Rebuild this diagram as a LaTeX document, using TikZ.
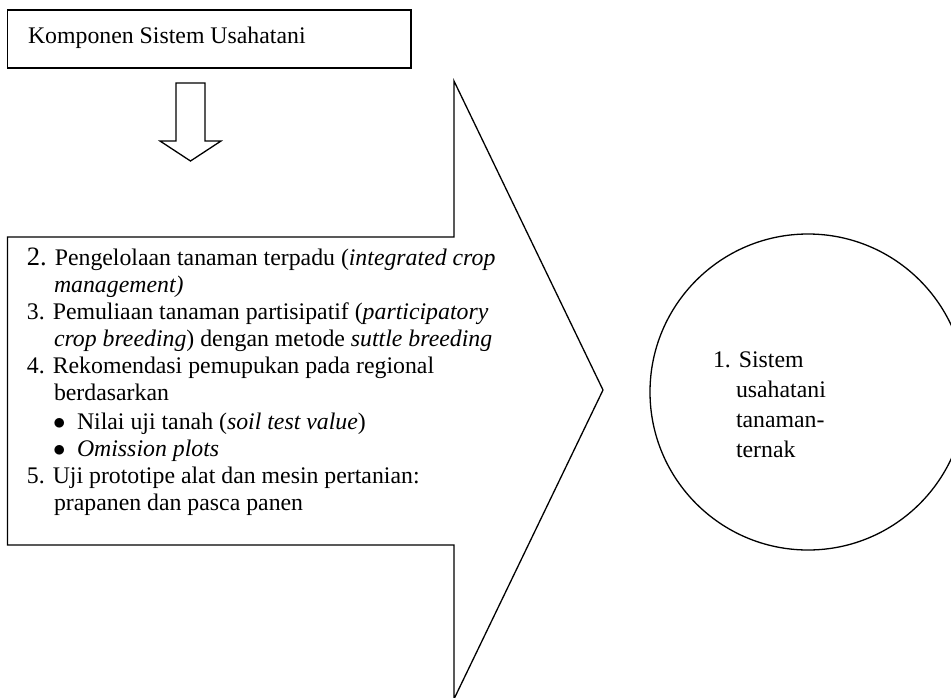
\documentclass[tikz,border=0pt]{standalone}
\usepackage{fontspec}
\setmainfont{Liberation Serif}
\begin{document}
\begin{tikzpicture}[x=1pt,y=-1pt,inner sep=0pt,outer sep=0pt,line width=1.3pt,
txt/.style={anchor=base west,font=\fontsize{23.8}{27}\selectfont},
box/.style={draw,rectangle,line width=1.6pt,minimum width=403.5pt,minimum height=58pt}]
\clip (0,0) rectangle (951,697);
\draw (209.25,39) node[box] (komp) {};
\draw (28,43) node[txt] (kompt) {Komponen Sistem Usahatani};
% panah ke bawah
\draw (176,83) -- (205,83) -- (205,141) -- (221,141) -- (190.5,161) -- (160,141) -- (176,141) -- cycle;
% panah besar
\draw (7.5,237) -- (454,237) -- (454,81) -- (603,390) -- (454,699) -- (454,545) -- (7.5,545) -- cycle;
\draw (27,265) node[txt] (l1) {{\fontsize{26.5}{27}\selectfont 2.} Pengelolaan tanaman terpadu (\textit{integrated crop}};
\draw (54,292) node[txt] (l2) {\textit{management)}};
\draw (27,319) node[txt] (l3) {3. Pemuliaan tanaman partisipatif (\textit{participatory}};
\draw (54,346) node[txt] (l4) {\textit{crop breeding}) dengan metode \textit{suttle breeding}};
\draw (27,373) node[txt] (l5) {4. Rekomendasi pemupukan pada regional};
\draw (54,400) node[txt] (l6) {berdasarkan};
\draw (53,429) node[txt] (l7) {\makebox[24pt][l]{$\bullet$}Nilai uji tanah (\textit{soil test value})};
\draw (53,456) node[txt] (l8) {\makebox[24pt][l]{$\bullet$}\textit{Omission plots}};
\draw (27,483) node[txt] (l9) {5. Uji prototipe alat dan mesin pertanian:};
\draw (54,510) node[txt] (l10) {prapanen dan pasca panen};
% lingkaran
\draw (808,392) node[draw,circle,minimum size=316pt] (sis) {};
\draw (713,367) node[txt] (s1) {1. Sistem};
\draw (736,397) node[txt] (s2) {usahatani};
\draw (736,427) node[txt] (s3) {tanaman-};
\draw (736,457) node[txt] (s4) {ternak};
\end{tikzpicture}
\end{document}
